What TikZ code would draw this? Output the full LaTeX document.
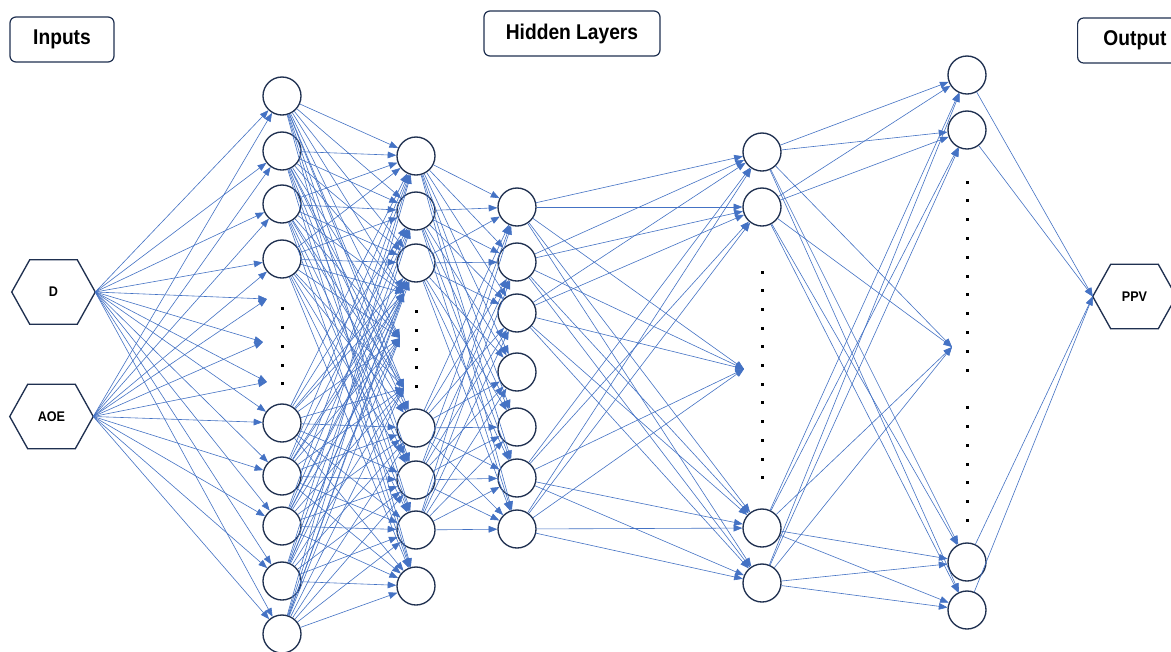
\documentclass[tikz,border=0pt]{standalone}
\usepackage{fontspec}
\newfontfamily\labfont{Liberation Sans}[FakeStretch=0.9]
\usetikzlibrary{arrows.meta,calc}
\definecolor{navy}{HTML}{1F3050}
\definecolor{lblue}{HTML}{4472C4}
\tikzset{
  neuron/.style={circle,draw=navy,line width=1pt,minimum size=28.5pt,inner sep=0pt,fill=white},
  conn/.style={draw=lblue,line width=0.45pt,-{Triangle[length=6.5pt,width=5pt]}},
  hexnode/.style={inner sep=0pt,minimum width=62.25pt,minimum height=48pt,font=\labfont\bfseries\fontsize{10.5}{12}\selectfont},
  hexline/.style={draw=navy,line width=1pt},
  titlebox/.style={draw=navy,rounded corners=4.5pt,line width=0.9pt,minimum height=33.75pt,inner sep=0pt,font=\labfont\bfseries\fontsize{16}{18}\selectfont},
  dotmark/.style={fill=black}
}
\newcommand{\hexoutline}[1]{%
  \draw[hexline] (#1.west) -- ($(#1.north west)+(18,0)$) -- ($(#1.north east)+(-18,0)$) -- (#1.east) -- ($(#1.south east)+(-18,0)$) -- ($(#1.south west)+(18,0)$) -- cycle;}
\begin{document}
\begin{tikzpicture}[x=0.75pt,y=-0.75pt]
\clip (0,0) rectangle (1171,651);
\fill[white] (0,0) rectangle (1171,651);
% title boxes
\node[titlebox,minimum width=78pt] (inputs) at (62,39.5) {Inputs};
\node[titlebox,minimum width=132pt] (hidden) at (572,33.5) {Hidden Layers};
\node[titlebox,minimum width=81pt,anchor=west] (output) at (1077,40.5) {\hspace*{5pt}Output\hfill};
% hexagons
\node[hexnode] (D) at (53.5,292) {D};
\node[hexnode] (AOE) at (51.5,416.5) {AOE};
\node[hexnode] (PPV) at (1134.5,296.5) {PPV};
\hexoutline{D}
\hexoutline{AOE}
\hexoutline{PPV}
% layer 1
\foreach \y [count=\i] in {96,151,204,259,423,476,526,581,634}
  \node[neuron] (a\i) at (282,\y) {};
\coordinate (pa1) at (267,299);
\coordinate (pa2) at (263,342);
\coordinate (pa3) at (267,382);
% layer 2
\foreach \y [count=\i] in {156,211,263,428,480,530,586}
  \node[neuron] (b\i) at (416,\y) {};
\coordinate (pb1) at (404,293);
\coordinate (pb2) at (400,338);
\coordinate (pb3) at (404,388);
% layer 3
\foreach \y [count=\i] in {207,262,313,372,427,478,529}
  \node[neuron] (c\i) at (517,\y) {};
% layer 4
\foreach \y [count=\i] in {152,207,528,583}
  \node[neuron] (d\i) at (762,\y) {};
\coordinate (pd) at (744,369);
% layer 5
\foreach \y [count=\i] in {75,130,562,610}
  \node[neuron] (e\i) at (967,\y) {};
\coordinate (pe) at (952,347);
% dots
\foreach \y in {308,327,346,365,383}
  \fill[dotmark] (280.5,\y-1.5) rectangle (283.5,\y+1.5);
\foreach \y in {311,330,349,367,386}
  \fill[dotmark] (414.5,\y-1.5) rectangle (417.5,\y+1.5);
\foreach \k in {0,...,11}
  \fill[dotmark] (760.5,272+\k*18.7-1.5) rectangle (763.5,272+\k*18.7+1.5);
\foreach \y in {182,200,219,238,257,276,294,313,332,351,370,407,426,445,464,482,501,520}
  \fill[dotmark] (965.5,\y-1.5) rectangle (968.5,\y+1.5);
% connections: inputs -> layer 1
\foreach \s in {D,AOE}
  \foreach \t in {a1,a2,a3,a4,pa1,pa2,pa3,a5,a6,a7,a8,a9}
    \draw[conn] (\s.east) -- (\t);
% layer 1 -> layer 2
\foreach \s in {a1,a2,a3,a4,a5,a6,a7,a8,a9}
  \foreach \t in {b1,b2,b3,pb1,pb2,pb3,b4,b5,b6,b7}
    \draw[conn] (\s) -- (\t);
% layer 2 -> layer 3
\foreach \s in {b1,b2,b3,b4,b5,b6}
  \foreach \t in {c1,c2,c3,c4,c5,c6,c7}
    \draw[conn] (\s) -- (\t);
% layer 3 -> layer 4
\foreach \s in {c1,c2,c3,c6,c7}
  \foreach \t in {d1,d2,pd,d3,d4}
    \draw[conn] (\s) -- (\t);
% layer 4 -> layer 5
\foreach \s in {d1,d2,d3,d4}
  \foreach \t in {e1,e2,pe,e3,e4}
    \draw[conn] (\s) -- (\t);
% layer 5 -> output
\foreach \s in {e1,e2,e3,e4}
  \draw[conn] (\s) -- (PPV.west);
\end{tikzpicture}
\end{document}
